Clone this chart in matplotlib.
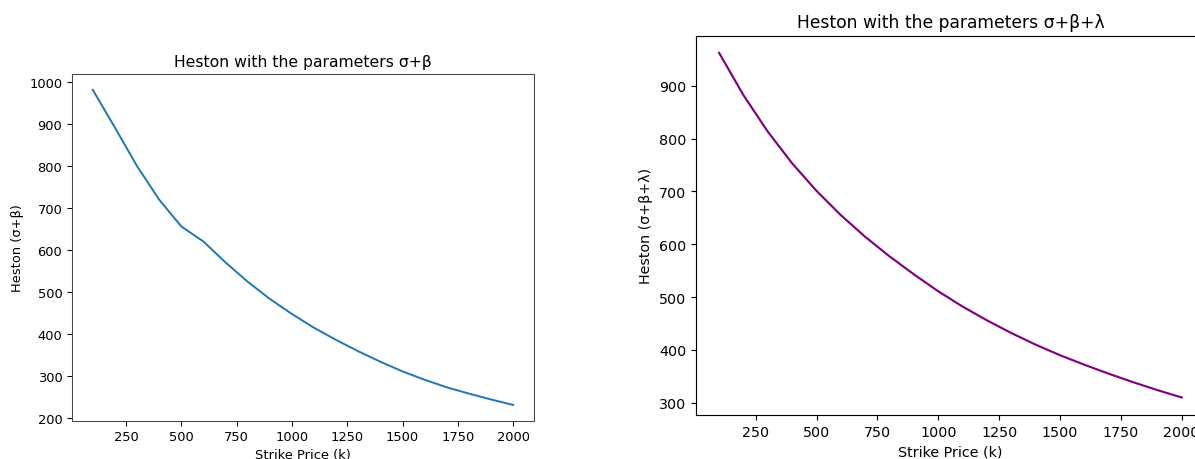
import numpy as np
import matplotlib
matplotlib.use('Agg')
import matplotlib.pyplot as plt

# strike prices (k)
strike = [100, 200, 300, 400, 500, 600, 700, 800, 900, 1000,
          1100, 1200, 1300, 1400, 1500, 1600, 1700, 1800, 1900, 2000]

# Heston price, parameters sigma + beta
heston_sb = [982, 892, 800, 720, 656, 620, 570, 524, 483, 447,
             414, 385, 358, 333, 310, 290, 272, 257, 243, 230]

# Heston price, parameters sigma + beta + lambda
heston_sbl = [962, 882, 813, 753, 701, 655, 614, 577, 543, 511,
              482, 456, 432, 410, 390, 372, 355, 339, 324, 310]

W, H = 1195, 460
fig = plt.figure(figsize=(W / 100, H / 100), dpi=100)


def px_axes(x0, y0, x1, y1):
    """axes from pixel box (top-left origin)"""
    return fig.add_axes([x0 / W, 1 - y1 / H, (x1 - x0) / W, (y1 - y0) / H])


# left chart (a slightly shrunken default figure)
s1 = 0.935
ax1 = px_axes(71.7, 75, 534.3, 421.7)
ax1.plot(strike, heston_sb, color='#1f77b4', lw=1.5 * s1)
ax1.set_title('Heston with the parameters σ+β', fontsize=12 * s1, pad=6 * s1)
ax1.set_xlabel('Strike Price (k)', fontsize=10 * s1, labelpad=4 * s1)
ax1.set_ylabel('Heston (σ+β)', fontsize=10 * s1, labelpad=4 * s1)
ax1.set_xticks([250, 500, 750, 1000, 1250, 1500, 1750, 2000])
ax1.set_yticks([200, 300, 400, 500, 600, 700, 800, 900, 1000])
ax1.tick_params(labelsize=10 * s1, length=3.5 * s1, width=0.8 * s1)
for sp in ax1.spines.values():
    sp.set_linewidth(0.8 * s1)
    sp.set_color('#444444')

# right chart (a slightly enlarged default figure, cut at the right edge)
s2 = 1.026
ax2 = px_axes(696, 36.7, 1204.8, 415.7)
ax2.plot(strike, heston_sbl, color='purple', lw=1.5 * s2)
ax2.set_title('Heston with the parameters σ+β+λ', fontsize=12 * s2, pad=6 * s2)
ax2.set_xlabel('Strike Price (k)', fontsize=10 * s2, labelpad=4 * s2)
ax2.set_ylabel('Heston (σ+β+λ)', fontsize=10 * s2, labelpad=4 * s2)
ax2.set_xticks([250, 500, 750, 1000, 1250, 1500, 1750, 2000])
ax2.set_yticks([300, 400, 500, 600, 700, 800, 900])
ax2.tick_params(labelsize=10 * s2, length=3.5 * s2, width=0.8 * s2)
for sp in ax2.spines.values():
    sp.set_linewidth(0.8 * s2)

fig.savefig('out.png', dpi=100)
